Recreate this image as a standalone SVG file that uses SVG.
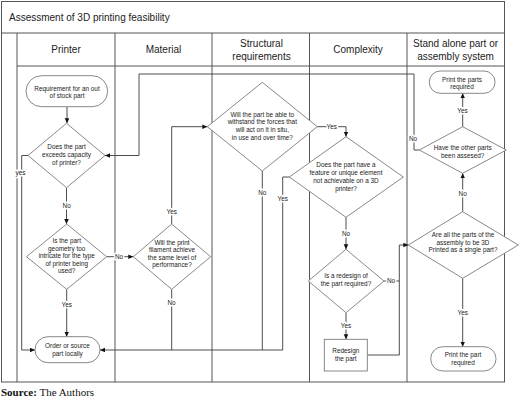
<svg xmlns="http://www.w3.org/2000/svg" width="520" height="402" viewBox="0 0 520 402">
<defs>
<marker id="ah" markerUnits="userSpaceOnUse" markerWidth="6" markerHeight="6" refX="5" refY="2.3" orient="auto">
<path d="M0,0 L5,2.3 L0,4.6 z" fill="#111"/>
</marker>
<style>
.frame{fill:none;stroke:#555;stroke-width:1}
.shape{fill:#fff;stroke:#7a7a7a;stroke-width:0.9}
.conn{fill:none;stroke:#3a3a3a;stroke-width:0.9}
.arr{marker-end:url(#ah)}
.t{font-family:"Liberation Sans",Arial,sans-serif;font-size:6.4px;fill:#222;text-anchor:middle}
.lbl{font-family:"Liberation Sans",Arial,sans-serif;font-size:6.4px;fill:#222;text-anchor:middle;stroke:#fff;stroke-width:3;paint-order:stroke;stroke-linejoin:round}
.h{font-family:"Liberation Sans",Arial,sans-serif;font-size:10px;fill:#222;text-anchor:middle}
</style>
</defs>
<rect width="520" height="402" fill="#fff"/>
<g id="frame">
<rect class="frame" x="1.5" y="1.5" width="503" height="380.5"/>
<line class="frame" x1="1.5" y1="33" x2="504.5" y2="33"/>
<line class="frame" x1="17" y1="66" x2="504.5" y2="66"/>
<line class="frame" x1="17" y1="33" x2="17" y2="382"/>
<line class="frame" x1="115" y1="33" x2="115" y2="382"/>
<line class="frame" x1="212" y1="33" x2="212" y2="382"/>
<line class="frame" x1="309.5" y1="33" x2="309.5" y2="382"/>
<line class="frame" x1="407" y1="33" x2="407" y2="382"/>
<text class="h" x="9" y="21" style="text-anchor:start">Assessment of 3D printing feasibility</text>
<text class="h" x="66" y="52.5">Printer</text>
<text class="h" x="163.5" y="52.5">Material</text>
<text class="h" x="261.5" y="47">Structural</text>
<text class="h" x="261.5" y="59.6">requirements</text>
<text class="h" x="358" y="52.5">Complexity</text>
<text class="h" x="455.5" y="47">Stand alone part or</text>
<text class="h" x="455.5" y="59.6">assembly system</text>
</g>
<g id="connectors">
<path class="conn arr" d="M67 106.7 V123.3"/>
<path class="conn arr" d="M66.5 187.7 V224"/>
<path class="conn arr" d="M28 155.5 H21.7 V350 H35"/>
<path class="conn arr" d="M106.7 256.7 H133.3"/>
<path class="conn arr" d="M66.7 289.3 V336.7"/>
<path class="conn arr" d="M171.7 224 V126.7 H207.3"/>
<path class="conn" d="M171.7 289.3 V350"/>
<path class="conn" d="M262.3 171 V350"/>
<path class="conn arr" d="M289.3 177 H282.7 V350 H100"/>
<path class="conn arr" d="M317.3 126.7 H346 V136.7"/>
<path class="conn arr" d="M346 217.3 V249.3"/>
<path class="conn" d="M384 281 H399.3"/>
<path class="conn arr" d="M346 312.7 V339.3"/>
<path class="conn arr" d="M367.3 355 H399.3 V245 H408.3"/>
<path class="conn arr" d="M462.7 211.7 V173.3"/>
<path class="conn arr" d="M462.7 278.3 V346.7"/>
<path class="conn arr" d="M462.7 126.7 V93.3"/>
<path class="conn arr" d="M419.3 150 H414 V74 H139 V155.5 H105"/>
<text class="lbl" x="66.7" y="208.3">No</text>
<text class="lbl" x="20.5" y="175">yes</text>
<text class="lbl" x="119" y="259">No</text>
<text class="lbl" x="66.7" y="307.3">Yes</text>
<text class="lbl" x="171.7" y="214">Yes</text>
<text class="lbl" x="171.5" y="305">No</text>
<text class="lbl" x="262.3" y="194.6">No</text>
<text class="lbl" x="282.7" y="201.3">Yes</text>
<text class="lbl" x="331.7" y="129">Yes</text>
<text class="lbl" x="346" y="235.6">No</text>
<text class="lbl" x="391" y="283.3">No</text>
<text class="lbl" x="346" y="328.3">Yes</text>
<text class="lbl" x="462.7" y="195.6">No</text>
<text class="lbl" x="462.7" y="314.6">Yes</text>
<text class="lbl" x="462.5" y="113">Yes</text>
<text class="lbl" x="413" y="141.3">No</text>
</g>
<g id="start">
<rect class="shape" x="26" y="75.7" width="81.7" height="31" rx="15.5"/>
<text class="t" x="67" y="90.6">Requirement for an out</text>
<text class="t" x="67" y="98.3">of stock part</text>
</g>
<g id="d-capacity">
<polygon class="shape" points="66.5,123.3 105,155.5 66.5,187.7 28,155.5"/>
<text class="t" x="66.5" y="149">Does the part</text>
<text class="t" x="66.5" y="157.3">exceeds capacity</text>
<text class="t" x="66.5" y="165">of printer?</text>
</g>
<g id="d-geometry">
<polygon class="shape" points="66.7,224 106.7,256.7 66.7,289.3 26.5,256.7"/>
<text class="t" x="66.7" y="243">Is the part</text>
<text class="t" x="66.7" y="250.6">geometry too</text>
<text class="t" x="66.7" y="258.3">intricate for the type</text>
<text class="t" x="66.7" y="265.6">of printer being</text>
<text class="t" x="66.7" y="273.3">used?</text>
</g>
<g id="order">
<rect class="shape" x="35" y="336.7" width="65" height="26" rx="13"/>
<text class="t" x="67.5" y="348">Order or source</text>
<text class="t" x="67.5" y="355.6">part locally</text>
</g>
<g id="d-filament">
<polygon class="shape" points="171.7,224 210.7,256.7 171.7,289.3 133.3,256.7"/>
<text class="t" x="172" y="245">Will the print</text>
<text class="t" x="172" y="252.3">filament achieve</text>
<text class="t" x="172" y="259.6">the same level of</text>
<text class="t" x="172" y="267.3">performance?</text>
</g>
<g id="d-forces">
<polygon class="shape" points="262.3,82.3 317.3,126.7 262.3,171 207.3,126.7"/>
<text class="t" x="262.3" y="116.6">Will the part be able to</text>
<text class="t" x="262.3" y="124.3">withstand the forces that</text>
<text class="t" x="262.3" y="132.3">will act on it in situ,</text>
<text class="t" x="262.3" y="140">in use and over time?</text>
</g>
<g id="d-feature">
<polygon class="shape" points="346,136.7 403.3,177 346,217.3 289.3,177"/>
<text class="t" x="346" y="167.3">Does the part have a</text>
<text class="t" x="346" y="175.3">feature or unique element</text>
<text class="t" x="346" y="183.3">not achievable on a 3D</text>
<text class="t" x="346" y="191.3">printer?</text>
</g>
<g id="d-redesign">
<polygon class="shape" points="346,249.3 384,281 346,312.7 308.3,281"/>
<text class="t" x="346" y="278.3">Is a redesign of</text>
<text class="t" x="346" y="285.6">the part required?</text>
</g>
<g id="redesign">
<rect class="shape" x="324.3" y="339.3" width="43" height="31.7"/>
<text class="t" x="345.8" y="353">Redesign</text>
<text class="t" x="345.8" y="360.6">the part</text>
</g>
<g id="d-assembly">
<polygon class="shape" points="462.7,211.7 518.3,245 462.7,278.3 408.3,245"/>
<text class="t" x="463" y="237.3">Are all the parts of the</text>
<text class="t" x="463" y="245">assembly to be 3D</text>
<text class="t" x="463" y="252.3">Printed as a single part?</text>
</g>
<g id="d-other">
<polygon class="shape" points="462.7,126.7 506.3,150 462.7,173.3 419.3,150"/>
<text class="t" x="462.7" y="149.6">Have the other parts</text>
<text class="t" x="462.7" y="158">been assesed?</text>
</g>
<g id="print-parts">
<rect class="shape" x="429.3" y="71" width="65.7" height="22.3" rx="11"/>
<text class="t" x="462" y="81.6">Print the parts</text>
<text class="t" x="462" y="89">required</text>
</g>
<g id="print-part">
<rect class="shape" x="430.7" y="346.7" width="65.3" height="24.3" rx="12"/>
<text class="t" x="463" y="357.3">Print the part</text>
<text class="t" x="463" y="365">required</text>
</g>
<text x="1" y="395.7" style="font-family:'Liberation Serif','Times New Roman',serif;font-size:11px;fill:#111"><tspan font-weight="bold">Source:</tspan> The Authors</text>
</svg>
